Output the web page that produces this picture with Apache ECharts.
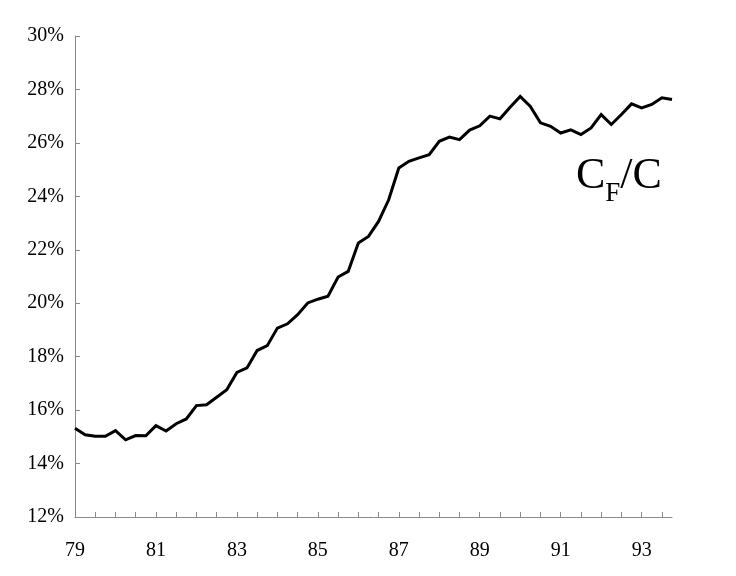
<!DOCTYPE html>
<html>
<head>
<meta charset="utf-8">
<script src="https://cdn.jsdelivr.net/npm/echarts@6/dist/echarts.min.js"></script>
<style>
html,body{margin:0;padding:0;background:#fff;}
#chart{width:736px;height:576px;}
</style>
</head>
<body>
<div id="chart"></div>
<script>
// Years shown (quarterly data 1979Q1 .. 1993Q4)
const years = [79, 80, 81, 82, 83, 84, 85, 86, 87, 88, 89, 90, 91, 92, 93];
const quarters = ['Q1', 'Q2', 'Q3', 'Q4'];
const categories = years.flatMap(y => quarters.map(q => y + q));

// C_F / C, percent
const cfRatio = [
  15.32, 15.08, 15.02, 15.02, 15.23, 14.89, 15.05, 15.04,
  15.42, 15.22, 15.49, 15.67, 16.17, 16.20, 16.48, 16.76,
  17.41, 17.58, 18.23, 18.41, 19.07, 19.23, 19.57, 20.01,
  20.15, 20.26, 20.98, 21.19, 22.25, 22.50, 23.06, 23.87,
  25.06, 25.31, 25.44, 25.56, 26.06, 26.22, 26.12, 26.48,
  26.64, 27.00, 26.90, 27.33, 27.74, 27.36, 26.75, 26.62,
  26.37, 26.49, 26.31, 26.56, 27.06, 26.69, 27.06, 27.46,
  27.31, 27.44, 27.69, 27.62
];

// Tick labels
const yTickLabels = ['12%', '14%', '16%', '18%', '20%', '22%', '24%', '26%', '28%', '30%'];
const xTickLabels = ['79', '81', '83', '85', '87', '89', '91', '93'];

const serif = 'Liberation Serif';
const axisGrey = '#8a8a8a';

const chart = echarts.init(document.getElementById('chart'), null, {renderer: 'canvas'});
chart.setOption({
  backgroundColor: '#ffffff',
  animation: false,
  grid: {left: 75, right: 64, top: 36, bottom: 59, containLabel: false},
  xAxis: {
    type: 'category',
    data: categories,
    boundaryGap: false,
    axisLine: {show: true, lineStyle: {color: axisGrey, width: 1}},
    axisTick: {show: true, inside: true, length: 5, interval: 1, lineStyle: {color: axisGrey}},
    axisLabel: {
      interval: 7,
      margin: 24,
      color: '#000',
      fontFamily: serif,
      fontSize: 20,
      formatter: (v, i) => xTickLabels[i / 8] || ''
    },
    splitLine: {show: false}
  },
  yAxis: {
    type: 'value',
    min: 12,
    max: 30,
    interval: 2,
    axisLine: {show: true, lineStyle: {color: axisGrey, width: 1}},
    axisTick: {show: true, inside: true, length: 5, lineStyle: {color: axisGrey}},
    axisLabel: {
      margin: 11,
      color: '#000',
      fontFamily: serif,
      fontSize: 20,
      formatter: v => yTickLabels[Math.round((v - 12) / 2)]
    },
    splitLine: {show: false}
  },
  series: [{
    type: 'line',
    data: cfRatio,
    showSymbol: false,
    symbol: 'none',
    lineStyle: {color: '#000', width: 3, join: 'miter'},
    z: 3
  }],
  graphic: [{
    type: 'text',
    left: 576,
    top: 154,
    style: {
      text: '{a|C}{b|F}{a|/C}',
      fontFamily: serif,
      rich: {
        a: {fontFamily: serif, fontSize: 44, color: '#000', lineHeight: 48, verticalAlign: 'bottom'},
        b: {fontFamily: serif, fontSize: 27, color: '#000', lineHeight: 48, verticalAlign: 'bottom', padding: [0, 0, -9, 0]}
      }
    }
  }]
});
</script>
</body>
</html>
